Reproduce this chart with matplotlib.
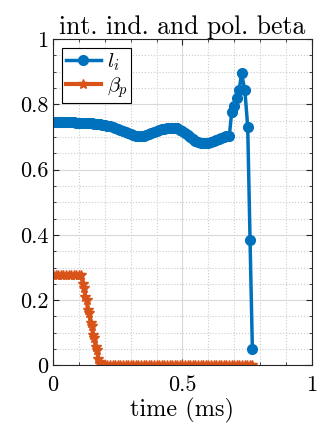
import matplotlib
matplotlib.use('Agg')
import matplotlib.pyplot as plt
from matplotlib.ticker import MultipleLocator

# internal inductance l_i (dense part, 0.01 ms steps, then sparse points at the end)
t_li = [0.00, 0.01, 0.02, 0.03, 0.04, 0.05, 0.06, 0.07, 0.08, 0.09,
        0.10, 0.11, 0.12, 0.13, 0.14, 0.15, 0.16, 0.17, 0.18, 0.19,
        0.20, 0.21, 0.22, 0.23, 0.24, 0.25, 0.26, 0.27, 0.28, 0.29,
        0.30, 0.31, 0.32, 0.33, 0.34, 0.35, 0.36, 0.37, 0.38, 0.39,
        0.40, 0.41, 0.42, 0.43, 0.44, 0.45, 0.46, 0.47, 0.48, 0.49,
        0.50, 0.51, 0.52, 0.53, 0.54, 0.55, 0.56, 0.57, 0.58, 0.59,
        0.60, 0.61, 0.62, 0.63, 0.64, 0.65, 0.66, 0.67, 0.681,
        0.690, 0.699, 0.709, 0.719, 0.728, 0.741, 0.752, 0.761, 0.770]
li = [0.745, 0.745, 0.745, 0.745, 0.745, 0.745, 0.745, 0.745, 0.745, 0.744,
      0.744, 0.744, 0.743, 0.743, 0.742, 0.742, 0.741, 0.740, 0.739, 0.738,
      0.737, 0.735, 0.733, 0.730, 0.727, 0.724, 0.721, 0.718, 0.715, 0.712,
      0.709, 0.706, 0.704, 0.703, 0.703, 0.704, 0.706, 0.709, 0.712, 0.715,
      0.718, 0.721, 0.723, 0.725, 0.727, 0.728, 0.729, 0.728, 0.726, 0.722,
      0.717, 0.711, 0.705, 0.699, 0.694, 0.689, 0.685, 0.682, 0.680, 0.680,
      0.682, 0.685, 0.689, 0.692, 0.695, 0.698, 0.701, 0.703, 0.704,
      0.775, 0.795, 0.819, 0.843, 0.895, 0.843, 0.731, 0.385, 0.049]

# poloidal beta
t_bp = [0.00, 0.01, 0.02, 0.03, 0.04, 0.05, 0.06, 0.07, 0.08, 0.09,
        0.10, 0.11, 0.115, 0.12, 0.125, 0.13, 0.135, 0.14, 0.145, 0.15,
        0.155, 0.16, 0.165, 0.17, 0.175, 0.18, 0.185, 0.19,
        0.20, 0.21, 0.22, 0.23, 0.24, 0.25, 0.26, 0.27, 0.28, 0.29,
        0.30, 0.31, 0.32, 0.33, 0.34, 0.35, 0.36, 0.37, 0.38, 0.39,
        0.40, 0.41, 0.42, 0.43, 0.44, 0.45, 0.46, 0.47, 0.48, 0.49,
        0.50, 0.51, 0.52, 0.53, 0.54, 0.55, 0.56, 0.57, 0.58, 0.59,
        0.60, 0.61, 0.62, 0.63, 0.64, 0.65, 0.66, 0.67, 0.68, 0.69,
        0.70, 0.71, 0.72, 0.73, 0.74, 0.75, 0.76, 0.77]
bp = [0.276, 0.276, 0.276, 0.276, 0.276, 0.276, 0.276, 0.276, 0.276, 0.276,
      0.276, 0.276, 0.250, 0.238, 0.210, 0.200, 0.170, 0.160, 0.130, 0.120,
      0.092, 0.085, 0.055, 0.048, 0.020, 0.012, 0.0, 0.0,
      0.0, 0.0, 0.0, 0.0, 0.0, 0.0, 0.0, 0.0, 0.0, 0.0,
      0.0, 0.0, 0.0, 0.0, 0.0, 0.0, 0.0, 0.0, 0.0, 0.0,
      0.0, 0.0, 0.0, 0.0, 0.0, 0.0, 0.0, 0.0, 0.0, 0.0,
      0.0, 0.0, 0.0, 0.0, 0.0, 0.0, 0.0, 0.0, 0.0, 0.0,
      0.0, 0.0, 0.0, 0.0, 0.0, 0.0, 0.0, 0.0, 0.0, 0.0,
      0.0, 0.0, 0.0, 0.0, 0.0, 0.0, 0.0, 0.0]

plt.rcParams['font.family'] = ['cmr10', 'DejaVu Serif']
plt.rcParams['mathtext.fontset'] = 'cm'
plt.rcParams['axes.formatter.use_mathtext'] = True

fig = plt.figure(figsize=(3.28, 4.34), dpi=100)
ax = fig.add_axes([0.1616, 0.158, 0.7894, 0.752])

blue = (0.0, 0.447, 0.741)
orange = (0.850, 0.325, 0.098)

ax.plot(t_li, li, color=blue, linewidth=2.5, marker='o', markersize=7, label=r'$l_i$')
ax.plot(t_bp, bp, color=orange, linewidth=3, marker='*', markersize=7, label=r'$\beta_p$')

ax.set_xlim(0, 1)
ax.set_ylim(0, 1)
ax.xaxis.set_minor_locator(MultipleLocator(0.1))
ax.yaxis.set_minor_locator(MultipleLocator(0.05))
ax.set_xticks([0, 0.5, 1])
ax.set_xticklabels(['0', '0.5', '1'])
ax.set_yticks([0, 0.2, 0.4, 0.6, 0.8, 1])
ax.set_yticklabels(['0', '0.2', '0.4', '0.6', '0.8', '1'])

ax.grid(True, which='major', color='0.85', linestyle='-', linewidth=0.8)
ax.grid(True, which='minor', color='0.8', linestyle=':', linewidth=0.8)
ax.set_axisbelow(True)
ax.tick_params(which='both', direction='in', top=True, right=True, colors='0.15',
               labelsize=16, labelcolor='black')
ax.tick_params(which='major', length=4)
ax.tick_params(which='minor', length=2)
ax.tick_params(axis='x', which='major', pad=7)
for s in ax.spines.values():
    s.set_color('0.15')
    s.set_linewidth(0.8)

ax.set_title('int. ind. and pol. beta', fontsize=18.5, pad=4)
ax.set_xlabel('time (ms)', fontsize=17.5, labelpad=2)

leg = ax.legend(loc='upper left', fontsize=15, fancybox=False, framealpha=1,
                edgecolor='black', handlelength=1.7, borderaxespad=0.45,
                borderpad=0.15, labelspacing=0.1, handletextpad=0.3)
leg.get_frame().set_linewidth(0.8)

fig.savefig('out.png', dpi=100)
